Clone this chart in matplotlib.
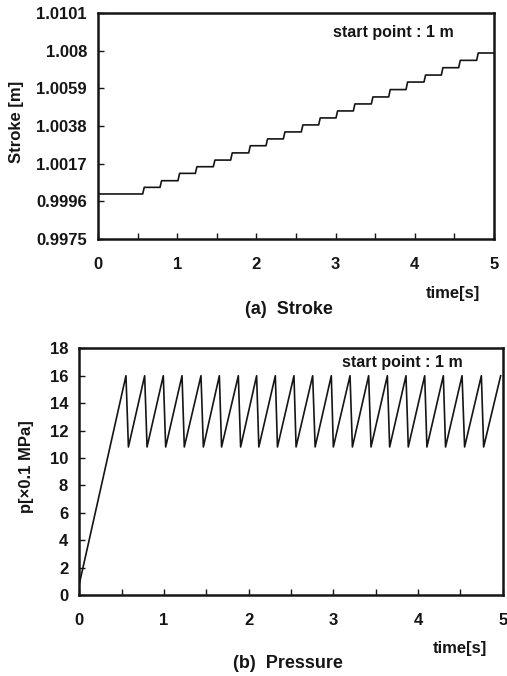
import matplotlib.pyplot as plt
from matplotlib.ticker import MultipleLocator

# ---- data ----
# (a) stroke: step function, riser times [s] and levels [m]
stroke_step_t = [0.564, 0.783, 1.010, 1.229, 1.456, 1.675, 1.903, 2.121, 2.340, 2.567,
                 2.786, 3.005, 3.224, 3.451, 3.670, 3.889, 4.116, 4.335, 4.554, 4.781]
stroke_levels = [1.00001, 1.00038, 1.00075, 1.00116, 1.00153, 1.00190, 1.00230, 1.00270,
                 1.00308, 1.00347, 1.00386, 1.00425, 1.00464, 1.00503, 1.00542, 1.00583,
                 1.00625, 1.00664, 1.00705, 1.00746, 1.00787]
stroke_yticks = [0.9975, 0.9996, 1.0017, 1.0038, 1.0059, 1.0080, 1.0101]
stroke_yticklabels = ['0.9975', '0.9996', '1.0017', '1.0038', '1.0059', '1.008', '1.0101']

# (b) pressure: sawtooth, peak/trough times [s] and values [x0.1 MPa]
p_start = (0.0, 0.8)
peak_t = [0.551, 0.772, 0.992, 1.213, 1.437, 1.654, 1.878, 2.094, 2.315, 2.535, 2.756,
          2.976, 3.197, 3.417, 3.638, 3.858, 4.079, 4.299, 4.520, 4.748, 4.976]
trough_t = [0.580, 0.800, 1.020, 1.240, 1.465, 1.680, 1.905, 2.120, 2.340, 2.560,
            2.785, 3.000, 3.225, 3.445, 3.665, 3.885, 4.105, 4.325, 4.550, 4.775]
peak_p = 16.0
trough_p = 10.8

# ---- build polylines ----
st_x = [0.0]
st_y = [stroke_levels[0]]
for i, t in enumerate(stroke_step_t):
  st_x += [t, t + 0.02]
  st_y += [stroke_levels[i], stroke_levels[i + 1]]
st_x.append(5.0)
st_y.append(stroke_levels[-1])

pr_x = [p_start[0]]
pr_y = [p_start[1]]
for i, t in enumerate(peak_t):
  pr_x.append(t)
  pr_y.append(peak_p)
  if i < len(trough_t):
    pr_x.append(trough_t[i])
    pr_y.append(trough_p)

# ---- drawing ----
plt.rcParams['font.family'] = ['Liberation Sans', 'DejaVu Sans']
plt.rcParams['font.weight'] = 'bold'
ink = '#151515'
W, H = 507, 676

fig = plt.figure(figsize=(W / 100, H / 100), dpi=100)

def style(ax):
  for s in ax.spines.values():
    s.set_linewidth(1.8)
    s.set_color(ink)
  ax.xaxis.set_major_locator(MultipleLocator(1))
  ax.xaxis.set_minor_locator(MultipleLocator(0.5))
  ax.tick_params(which='both', direction='in', length=4, width=1.0, color=ink,
                 labelsize=12, labelcolor=ink)
  ax.tick_params(axis='x', which='major', pad=13)
  ax.tick_params(axis='y', pad=8)
  ax.set_xlim(0, 5)
  for lab in ax.get_xticklabels() + ax.get_yticklabels():
    lab.set_fontweight('bold')

# (a) Stroke
ax1 = fig.add_axes([98 / W, 1 - 239 / H, 396 / W, 226 / H])
ax1.plot(st_x, st_y, color=ink, lw=1.2)
ax1.set_ylim(0.9975, 1.0101)
ax1.set_yticks(stroke_yticks)
ax1.set_yticklabels(stroke_yticklabels)
style(ax1)
fig.text(17 / W, 1 - 122 / H, 'Stroke [m]', rotation=90, ha='center', va='center',
         fontsize=12, fontweight='bold', color=ink)
fig.text(393 / W, 1 - 33 / H, 'start point : 1 m', ha='center', va='center',
         fontsize=11.5, fontweight='bold', color=ink)
fig.text(453 / W, 1 - 293 / H, 'time[s]', ha='center', va='center',
         fontsize=12, fontweight='bold', color=ink)
fig.text(289 / W, 1 - 310 / H, '(a)  Stroke', ha='center', va='center',
         fontsize=13, fontweight='bold', color=ink)

# (b) Pressure
ax2 = fig.add_axes([79.3 / W, 1 - 595 / H, 423.4 / W, 246.7 / H])
ax2.plot(pr_x, pr_y, color=ink, lw=1.2)
ax2.set_ylim(0, 18)
ax2.yaxis.set_major_locator(MultipleLocator(2))
style(ax2)
fig.text(27 / W, 1 - 467 / H, 'p[×0.1 MPa]', rotation=90, ha='center', va='center',
         fontsize=12, fontweight='bold', color=ink)
fig.text(402 / W, 1 - 362 / H, 'start point : 1 m', ha='center', va='center',
         fontsize=11.5, fontweight='bold', color=ink)
fig.text(460 / W, 1 - 648 / H, 'time[s]', ha='center', va='center',
         fontsize=12, fontweight='bold', color=ink)
fig.text(288 / W, 1 - 663 / H, '(b)  Pressure', ha='center', va='center',
         fontsize=13, fontweight='bold', color=ink)

fig.savefig('out.png', dpi=100, facecolor='white')
